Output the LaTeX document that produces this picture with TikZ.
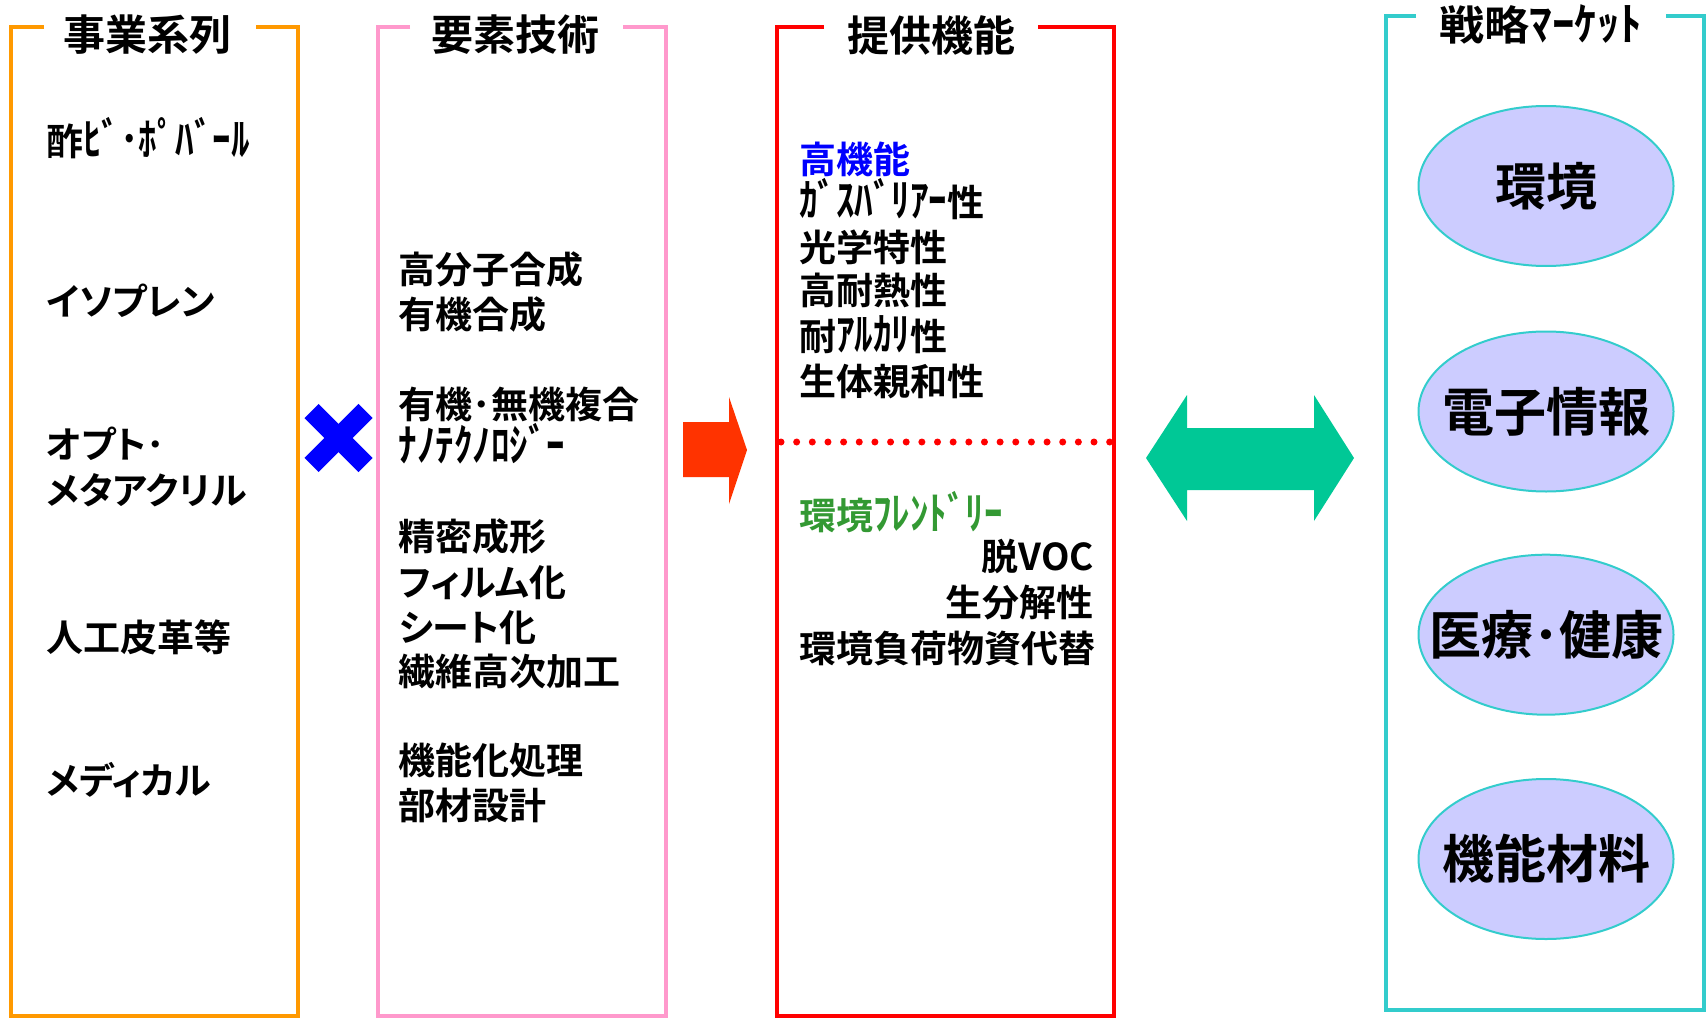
\documentclass[tikz,border=0pt]{standalone}
\usepackage{fontspec}
\setmainfont{Noto Sans CJK JP}[UprightFont=*, BoldFont=* Bold, RawFeature=+palt]
\usetikzlibrary{shapes.geometric}
\definecolor{corange}{HTML}{FF9900}
\definecolor{cpink}{HTML}{FF99CC}
\definecolor{cred}{HTML}{FF0000}
\definecolor{cteal}{HTML}{33CCCC}
\definecolor{clav}{HTML}{CCCCFF}
\definecolor{carrow}{HTML}{FF3300}
\definecolor{cgreenarrow}{HTML}{00C896}
\definecolor{cgreentext}{HTML}{339933}
\definecolor{cblue}{HTML}{0000FF}
\newcommand{\zw}[1]{\makebox[0pt]{#1}}
\newcommand{\hw}[1]{\smash{\scalebox{1}[1.2]{#1}}}
\newcommand{\hwt}[1]{\smash{\scalebox{1}[1.1]{#1}}}
\tikzset{
  txt/.style={anchor=west, inner sep=0pt, text height=30.7pt, text depth=2.6pt, font=\bfseries\fontsize{37}{45}\selectfont},
  rtxt/.style={txt, anchor=east},
  ttl/.style={inner sep=0pt, font=\bfseries\fontsize{42}{48}\selectfont},
  frame/.style={line width=4.5pt},
  market/.style={ellipse, draw=cteal, line width=2pt, fill=clav, minimum width=255pt, minimum height=160pt, inner sep=0pt, font=\bfseries\fontsize{52}{56}\selectfont}
}
\begin{document}
\begin{tikzpicture}[x=1pt,y=-1pt]
\useasboundingbox (0,0) rectangle (1707,1019);
% frames
\draw[frame, corange] (44,27) -- (11,27) -- (11,1016) -- (298,1016) -- (298,27) -- (256,27);
\draw[frame, cpink] (410,27) -- (378,27) -- (378,1016) -- (666,1016) -- (666,27) -- (623,27);
\draw[frame, cred] (824,27) -- (777,27) -- (777,1016) -- (1114,1016) -- (1114,27) -- (1038,27);
\draw[frame, cteal] (1416,16) -- (1386,16) -- (1386,1010) -- (1704,1010) -- (1704,16) -- (1666,16);
% titles
\node[ttl] (t1) at (147,35) {事業系列};
\node[ttl] (t2) at (515,35) {要素技術};
\node[ttl] (t3) at (931,35) {提供機能};
\node[ttl, font=\bfseries\fontsize{41}{46}\selectfont] (t4) at (1541,25) {\scalebox{1.1}[1]{戦略\hwt{ﾏｰｹｯﾄ}}};
% left column
\node[txt] (a1) at (46,141.5) {酢\hw{ﾋﾞ･ﾎﾟﾊﾞｰﾙ}};
\node[txt] (a2) at (46,301.6) {イソプレン};
\node[txt] (a3) at (46,444) {オプト･};
\node[txt] (a4) at (46,490) {メタアクリル};
\node[txt] (a5) at (46,637) {人工皮革等};
\node[txt] (a6) at (46,780.6) {メディカル};
% pink column
\node[txt] (b1) at (398.5,269) {高分子合成};
\node[txt] (b2) at (398.5,314.6) {有機合成};
\node[txt] (b3) at (398.5,404) {有機･無機複合};
\node[txt] (b4) at (398.5,447.5) {\hw{ﾅﾉﾃｸﾉﾛｼﾞｰ}};
\node[txt] (b5) at (398.5,536.7) {精密成形};
\node[txt] (b6) at (398.5,582.5) {フィルム化};
\node[txt] (b7) at (398.5,627) {シート化};
\node[txt] (b8) at (398.5,671.7) {繊維高次加工};
\node[txt] (b9) at (398.5,760) {機能化処理};
\node[txt] (b10) at (398.5,805.6) {部材設計};
% red column
\node[txt, text=cblue] (c1) at (799,159) {高機能};
\node[txt] (c2) at (799,202.5) {\hw{ｶﾞｽﾊﾞﾘｱｰ}性};
\node[txt] (c3) at (799,247) {光学特性};
\node[txt] (c4) at (799,290.7) {高耐熱性};
\node[txt] (c5) at (799,336.4) {耐\hw{ｱﾙｶﾘ}性};
\node[txt] (c6) at (799,381) {生体親和性};
\node[txt, text=cgreentext] (c7) at (799,515) {環境\hw{ﾌﾚﾝﾄﾞﾘｰ}};
\node[rtxt] (c8) at (1094,556) {脱VOC};
\node[rtxt] (c9) at (1094,602) {生分解性};
\node[txt] (c10) at (799,648) {環境負荷物資代替};
% dotted divider
\coordinate (dl) at (781,442);
\coordinate (dr) at (1110,442);
\draw[cred, line width=7pt, line cap=round, dash pattern=on 0pt off 15.65pt] (dl) -- (dr);
% blue cross
\draw[cblue, line width=20pt] (311.5,411) -- (365.5,465);
\draw[cblue, line width=20pt] (365.5,411) -- (311.5,465);
% red arrow
\fill[carrow] (683,422) -- (729,422) -- (729,397) -- (747,450) -- (729,504) -- (729,477) -- (683,477) -- cycle;
% green double arrow
\fill[cgreenarrow] (1146,458) -- (1187,395) -- (1187,428) -- (1314,428) -- (1314,395) -- (1354,458) -- (1314,521) -- (1314,490) -- (1187,490) -- (1187,521) -- cycle;
% markets
\node[market, font=\bfseries\fontsize{51}{55}\selectfont] (m1) at (1546,186) {\zw{環境}};
\node[market] (m2) at (1546,411.5) {\zw{電子情報}};
\node[market] (m3) at (1546,634.7) {\zw{医療･健康}};
\node[market] (m4) at (1546,859) {\zw{機能材料}};
\end{tikzpicture}
\end{document}
